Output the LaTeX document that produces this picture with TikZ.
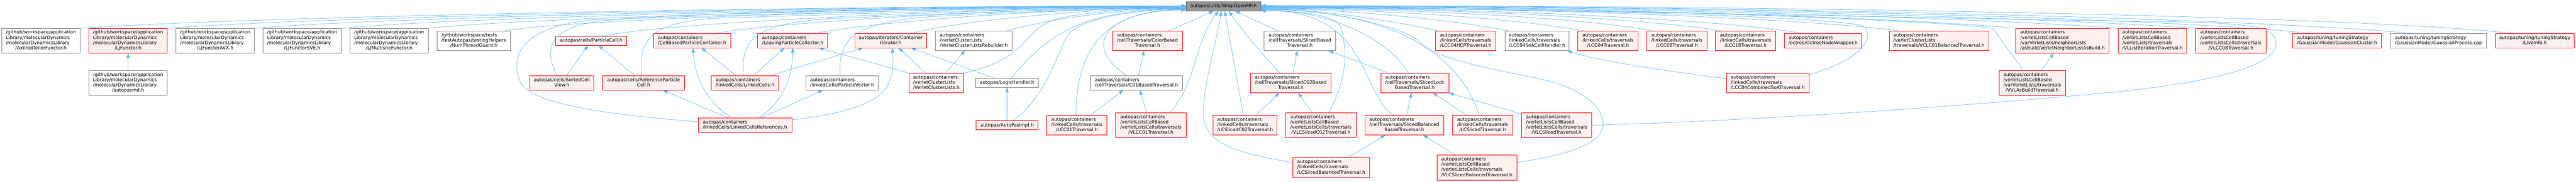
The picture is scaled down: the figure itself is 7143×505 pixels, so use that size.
\documentclass[tikz,border=0pt]{standalone}
\usepackage{fontspec}
\setmainfont{DejaVu Sans}
\usetikzlibrary{arrows.meta,calc,backgrounds}
\definecolor{edgeblue}{HTML}{63B8FF}
\definecolor{redfill}{HTML}{FFF0F0}
\definecolor{grayborder}{HTML}{808080}
\definecolor{rootfill}{HTML}{999999}
\definecolor{rootborder}{HTML}{666666}
\newcommand\lbl[2]{\begin{tabular}{@{}l@{}}#1\multicolumn{1}{@{}c@{}}{#2}\end{tabular}}
\newcommand\bx[7]{\node[#1, minimum width={(#4-#3)*1bp}, minimum height={#6*1bp}] (#2) at ({(#3+#4)/2},#5) {#7};}
\newcommand\pMD{/github/workspace/application\\Library/molecularDynamics\\/molecularDynamicsLibrary\\}
\newcommand\pLCT{autopas/containers\\/linkedCells/traversals\\}
\newcommand\pVLCT{autopas/containers\\/verletListsCellBased\\/verletListsCells/traversals\\}
\tikzset{
  every node/.style={font=\fontsize{12.85bp}{14.65bp}\selectfont, inner sep=0pt, outer sep=0pt, line width=1.2bp},
  rbox/.style={draw=red, fill=redfill},
  gbox/.style={draw=grayborder, fill=white},
  root/.style={draw=rootborder, fill=rootfill},
  dep/.style={draw=edgeblue, line width=1bp, -{Triangle[length=13bp,width=9.5bp]}}
}
\begin{document}
\begin{tikzpicture}[x=1bp, y=-1bp]
\useasboundingbox (0,0) rectangle (7143,505);
% ---- nodes ----
\bx{root}{W}{3288.6}{3496.4}{17.7}{26}{autopas/utils/WrapOpenMP.h}
% row 1
\bx{gbox}{axil}{4.6}{222.7}{113.3}{69.3}{\lbl{\pMD}{/AxilrodTellerFunctor.h}}
\bx{rbox}{ljf}{246.4}{463.8}{113.3}{69.3}{\lbl{\pMD}{/LJFunctor.h}}
\bx{gbox}{avx}{487.9}{705.2}{113.3}{69.3}{\lbl{\pMD}{/LJFunctorAVX.h}}
\bx{gbox}{sve}{729.3}{946.3}{113.3}{69.3}{\lbl{\pMD}{/LJFunctorSVE.h}}
\bx{gbox}{multi}{970.4}{1187.8}{113.3}{69.3}{\lbl{\pMD}{/LJMultisiteFunctor.h}}
\bx{gbox}{num}{1212.6}{1415.1}{113.3}{55}{\lbl{/github/workspace/tests\\/testAutopas/testingHelpers\\}{/NumThreadGuard.h}}
\bx{rbox}{pcell}{1540.6}{1738.0}{113.3}{25.7}{autopas/cells/ParticleCell.h}
\bx{rbox}{cbpc}{1812.6}{2025.8}{113.3}{40}{\lbl{autopas/containers\\}{/CellBasedParticleContainer.h}}
\bx{rbox}{lpc}{2100.8}{2295.2}{113.3}{40}{\lbl{autopas/containers\\}{/LeavingParticleCollector.h}}
\bx{rbox}{citer}{2370.2}{2569.5}{113.3}{40}{\lbl{autopas/iterators/Container\\}{Iterator.h}}
\bx{gbox}{vclr}{2594.0}{2806.8}{113.3}{55}{\lbl{autopas/containers\\/verletClusterLists\\}{/VerletClusterListsRebuilder.h}}
\bx{rbox}{colb}{3085.0}{3278.6}{113.3}{55}{\lbl{autopas/containers\\/cellTraversals/ColorBased\\}{Traversal.h}}
\bx{gbox}{slb}{3505.1}{3703.7}{113.3}{55}{\lbl{autopas/containers\\/cellTraversals/SlicedBased\\}{Traversal.h}}
\bx{rbox}{hcp}{3980.7}{4148.0}{113.3}{55}{\lbl{\pLCT}{/LCC04HCPTraversal.h}}
\bx{gbox}{soah}{4172.8}{4351.1}{113.3}{55}{\lbl{\pLCT}{/LCC04SoACellHandler.h}}
\bx{rbox}{lcc04}{4375.3}{4542.5}{113.3}{55}{\lbl{\pLCT}{/LCC04Traversal.h}}
\bx{rbox}{lcc08}{4566.2}{4733.4}{113.3}{55}{\lbl{\pLCT}{/LCC08Traversal.h}}
\bx{rbox}{lcc18}{4756.8}{4924.0}{113.3}{55}{\lbl{\pLCT}{/LCC18Traversal.h}}
\bx{rbox}{oct}{4947.7}{5162.4}{113.3}{40}{\lbl{autopas/containers\\}{/octree/OctreeNodeWrapper.h}}
\bx{rbox}{vclc01}{5238.5}{5514.4}{113.3}{55}{\lbl{autopas/containers\\/verletClusterLists\\}{/traversals/VCLC01BalancedTraversal.h}}
\bx{rbox}{vnlab}{5589.8}{5848.5}{113.3}{69.3}{\lbl{autopas/containers\\/verletListsCellBased\\/varVerletLists/neighborLists\\}{/asBuild/VerletNeighborListAsBuild.h}}
\bx{rbox}{vllit}{5873.3}{6063.9}{113.3}{69.3}{\lbl{autopas/containers\\/verletListsCellBased\\/verletLists/traversals\\}{/VLListIterationTraversal.h}}
\bx{rbox}{vlcc08}{6088.4}{6283.2}{113.3}{69.3}{\lbl{\pVLCT}{/VLCC08Traversal.h}}
\bx{rbox}{gcl}{6357.0}{6604.2}{113.3}{40}{\lbl{autopas/tuning/tuningStrategy\\}{/GaussianModel/GaussianCluster.h}}
\bx{gbox}{gpr}{6628.3}{6895.0}{113.3}{40}{\lbl{autopas/tuning/tuningStrategy\\}{/GaussianModel/GaussianProcess.cpp}}
\bx{rbox}{live}{6919.2}{7138.0}{113.3}{40}{\lbl{autopas/tuning/tuningStrategy\\}{/LiveInfo.h}}
% row 2
\bx{gbox}{amd}{246.4}{463.8}{230.5}{69.3}{\lbl{\pMD}{/autopasmd.h}}
\bx{rbox}{scv}{1468.6}{1647.0}{230.5}{40}{\lbl{autopas/cells/SortedCell\\}{View.h}}
\bx{rbox}{rpc}{1671.1}{1898.0}{230.5}{40}{\lbl{autopas/cells/ReferenceParticle\\}{Cell.h}}
\bx{rbox}{lc}{1972.6}{2159.0}{230.5}{40}{\lbl{autopas/containers\\}{/linkedCells/LinkedCells.h}}
\bx{gbox}{pvec}{2234.7}{2435.6}{230.5}{40}{\lbl{autopas/containers\\}{/linkedCells/ParticleVector.h}}
\bx{rbox}{vcl}{2520.5}{2672.5}{230.5}{55}{\lbl{autopas/containers\\/verletClusterLists\\}{/VerletClusterLists.h}}
\bx{gbox}{logic}{2705.0}{2879.9}{230.5}{25.7}{autopas/LogicHandler.h}
\bx{gbox}{c01b}{3023.7}{3278.6}{230.5}{40}{\lbl{autopas/containers\\}{/cellTraversals/C01BasedTraversal.h}}
\bx{rbox}{sc02b}{3467.6}{3690.7}{230.5}{55}{\lbl{autopas/containers\\/cellTraversals/SlicedC02Based\\}{Traversal.h}}
\bx{rbox}{slock}{3828.8}{4017.1}{230.5}{55}{\lbl{autopas/containers\\/cellTraversals/SlicedLock\\}{BasedTraversal.h}}
\bx{rbox}{comb}{4787.4}{5016.2}{230.5}{55}{\lbl{\pLCT}{/LCC04CombinedSoATraversal.h}}
\bx{rbox}{vvlab}{5543.1}{5727.2}{230.5}{69.3}{\lbl{autopas/containers\\/verletListsCellBased\\/varVerletLists/traversals\\}{/VVLAsBuildTraversal.h}}
% row 3
\bx{rbox}{lcr}{1935.9}{2195.7}{347.9}{40}{\lbl{autopas/containers\\}{/linkedCells/LinkedCellsReferences.h}}
\bx{rbox}{impl}{2706.9}{2878.0}{347.9}{25.7}{autopas/AutoPasImpl.h}
\bx{rbox}{lcc01}{2902.5}{3069.3}{347.9}{55}{\lbl{\pLCT}{/LCC01Traversal.h}}
\bx{rbox}{vlcc01}{3093.8}{3288.6}{347.9}{69.3}{\lbl{\pVLCT}{/VLCC01Traversal.h}}
\bx{rbox}{lcsc02}{3363.9}{3541.1}{347.9}{55}{\lbl{\pLCT}{/LCSlicedC02Traversal.h}}
\bx{rbox}{vlcsc02}{3565.6}{3760.3}{347.9}{69.3}{\lbl{\pVLCT}{/VLCSlicedC02Traversal.h}}
\bx{rbox}{sbal}{3784.8}{4003.3}{347.9}{55}{\lbl{autopas/containers\\/cellTraversals/SlicedBalanced\\}{BasedTraversal.h}}
\bx{rbox}{lcs}{4027.8}{4194.7}{347.9}{55}{\lbl{\pLCT}{/LCSlicedTraversal.h}}
\bx{rbox}{vlcs}{4219.1}{4413.5}{347.9}{69.3}{\lbl{\pVLCT}{/VLCSlicedTraversal.h}}
% row 4
\bx{rbox}{lcsbal}{3585.5}{3797.1}{465.3}{55}{\lbl{\pLCT}{/LCSlicedBalancedTraversal.h}}
\bx{rbox}{vlcsbal}{3984.6}{4205.7}{465.3}{69.3}{\lbl{\pVLCT}{/VLCSlicedBalancedTraversal.h}}
% ---- edges ----
\begin{pgfonlayer}{background}
\fill[white] (0,0) rectangle (7143,505);
% left side into WrapOpenMP
\draw[dep] (axil.north east) .. controls (700,45) and (2300,16) .. ($(W.west)+(0,-1.7)$);
\draw[dep] (ljf.north east) .. controls (900,45) and (2400,16.5) .. ($(W.west)+(0,-1.2)$);
\draw[dep] (avx.north east) .. controls (1100,45) and (2500,17) .. ($(W.west)+(0,-0.7)$);
\draw[dep] (sve.north east) .. controls (1300,45) and (2600,17.5) .. ($(W.west)+(0,-0.2)$);
\draw[dep] (multi.north east) .. controls (1500,45) and (2700,18) .. ($(W.west)+(0,0.3)$);
\draw[dep] ($(num.north east)+(-16,0)$) .. controls (1600,50) and (2750,18.5) .. ($(W.west)+(0,0.8)$);
\draw[dep] ($(scv.north)+(-13.4,0)$) .. controls (1505,130) and (1520,70) .. (1700,55) .. controls (2000,30) and (2800,19) .. ($(W.west)+(0,1.3)$);
\draw[dep] ($(lcr.west)+(0,-9.6)$) .. controls (1700,320) and (1455,290) .. (1440,220) .. controls (1410,140) and (1470,70) .. (1650,55) .. controls (2000,42) and (2800,19.5) .. ($(W.west)+(0,1.8)$);
\draw[dep] ($(pcell.north)+(33.3,0)$) .. controls (1850,60) and (2800,20) .. ($(W.west)+(0,2.3)$);
\draw[dep] ($(rpc.north)+(-4.75,0)$) .. controls (1770,110) and (1800,60) .. (2000,50) .. controls (2500,35) and (2900,20.5) .. ($(W.west)+(0,2.8)$);
\draw[dep] ($(cbpc.north)+(60.7,0)$) .. controls (2200,55) and (2900,21) .. ($(W.west)+(0,3.3)$);
\draw[dep] ($(lc.north)+(-4.4,0)$) .. controls (2055,120) and (2080,65) .. (2300,52) .. controls (2700,35) and (3000,21.5) .. ($(W.west)+(0,3.8)$);
\draw[dep] ($(lpc.north)+(55.5,0)$) .. controls (2500,50) and (3000,22) .. ($(W.west)+(0,4.3)$);
\draw[dep] ($(pvec.north)+(-5,0)$) .. controls (2320,100) and (2380,60) .. (2600,45) .. controls (2900,30) and (3100,22.5) .. ($(W.west)+(0,4.8)$);
\draw[dep] ($(citer.north)+(54.5,0)$) .. controls (2650,60) and (3000,23) .. ($(W.west)+(0,5.3)$);
\draw[dep] (vcl.north east) .. controls (2870,160) and (2830,70) .. (2950,48) .. controls (3050,30) and (3150,23.5) .. ($(W.west)+(0,5.8)$);
\draw[dep] ($(vclr.north)+(91.6,0)$) .. controls (2900,55) and (3100,24) .. ($(W.west)+(0,6.3)$);
\draw[dep] ($(logic.north)+(11.3,0)$) .. controls (2900,100) and (3000,25) .. ($(W.west)+(0,7.3)$);
\draw[dep] ($(impl.north)+(17,0)$) .. controls (2900,270) and (2930,150) .. (2960,100) .. controls (2990,50) and (3150,26) .. ($(W.west)+(0,8.3)$);
\draw[dep] ($(lcc01.north)+(-2.3,0)$) .. controls (2985,150) and (3050,27) .. ($(W.west)+(0,9.3)$);
\draw[dep] ($(c01b.north)+(-26.75,0)$) .. controls (2990,120) and (3080,28) .. ($(W.west)+(0,10.3)$);
% bottom into WrapOpenMP
\draw[dep] ($(colb.north)+(59.2,0)$) -- ($(W.south)+(-27,0)$);
\draw[dep] ($(vlcc01.north)+(51.8,0)$) .. controls (3320,230) and (3310,120) .. ($(W.south)+(-13.6,0)$);
\draw[dep] ($(lcsbal.west)+(0,-13.6)$) .. controls (3430,425) and (3340,400) .. (3337,320) .. controls (3335,240) and (3375,110) .. ($(W.south)+(-6,0)$);
\draw[dep] ($(lcsc02.north)+(-4.8,0)$) -- ($(W.south)+(3.6,0)$);
\draw[dep] ($(sc02b.north)+(-30.2,0)$) .. controls (3500,150) and (3440,80) .. ($(W.south)+(15.1,0)$);
\draw[dep] ($(slb.north)+(-61,0)$) -- ($(W.south)+(32.3,0)$);
% right side into WrapOpenMP
\draw[dep] ($(vlcsc02.north)+(21,0)$) .. controls (3745,200) and (3730,130) .. (3720,80) .. controls (3710,40) and (3600,30) .. ($(W.east)+(0,12.3)$);
\draw[dep] ($(sbal.north)+(-30,0)$) .. controls (3770,260) and (3800,29) .. ($(W.east)+(0,11.3)$);
\draw[dep] ($(slock.north)+(-17,0)$) .. controls (3860,120) and (3700,28) .. ($(W.east)+(0,10.3)$);
\draw[dep] ($(lcs.north)+(-10,0)$) .. controls (4060,180) and (3900,27) .. ($(W.east)+(0,9.3)$);
\draw[dep] ($(vlcsbal.east)+(0,-13.6)$) .. controls (4380,425) and (4450,390) .. (4445,340) .. controls (4440,290) and (4380,240) .. (4250,215) .. controls (4100,185) and (3980,160) .. (3940,120) .. controls (3910,80) and (3700,26) .. ($(W.east)+(0,8.3)$);
\draw[dep] ($(hcp.north west)+(7.7,0)$) .. controls (3850,55) and (3650,25) .. ($(W.east)+(0,7.3)$);
\draw[dep] ($(soah.north west)+(12.7,0)$) .. controls (4000,50) and (3700,24.5) .. ($(W.east)+(0,6.8)$);
\draw[dep] ($(lcc04.north west)+(16,0)$) .. controls (4200,50) and (3800,24) .. ($(W.east)+(0,6.3)$);
\draw[dep] ($(lcc08.north west)+(16.5,0)$) .. controls (4400,50) and (3900,23) .. ($(W.east)+(0,5.3)$);
\draw[dep] ($(lcc18.north west)+(17,0)$) .. controls (4550,50) and (4000,22) .. ($(W.east)+(0,4.3)$);
\draw[dep] ($(comb.east)+(0,-22.5)$) .. controls (5150,170) and (5200,110) .. (5170,75) .. controls (5140,45) and (4200,21.5) .. ($(W.east)+(0,3.8)$);
\draw[dep] ($(oct.north west)+(51.3,0)$) .. controls (4800,55) and (4100,21) .. ($(W.east)+(0,3.3)$);
\draw[dep] ($(vclc01.north west)+(26.5,0)$) .. controls (5000,50) and (4200,20) .. ($(W.east)+(0,2.3)$);
\draw[dep] (vlcs.east) .. controls (4900,335) and (5500,290) .. (5840,258) .. controls (6150,228) and (6330,180) .. (6310,110) .. controls (6300,75) and (6230,68) .. (6100,62) .. controls (5000,45) and (4000,19.5) .. ($(W.east)+(0,1.8)$);
\draw[dep] (vnlab.north west) .. controls (5300,50) and (4400,19) .. ($(W.east)+(0,1.3)$);
\draw[dep] ($(vvlab.north)+(-24.6,0)$) -- (5527,80) .. controls (5480,62) and (4500,18.5) .. ($(W.east)+(0,0.8)$);
\draw[dep] (vllit.north west) .. controls (5500,50) and (4500,18) .. ($(W.east)+(0,0.3)$);
\draw[dep] (vlcc08.north west) .. controls (5700,50) and (4600,17) .. ($(W.east)+(0,-0.7)$);
\draw[dep] ($(gcl.north west)+(56.3,0)$) .. controls (6000,50) and (4800,16.5) .. ($(W.east)+(0,-1.2)$);
\draw[dep] ($(gpr.north west)+(64,0)$) .. controls (6300,55) and (5000,16) .. ($(W.east)+(0,-1.7)$);
\draw[dep] ($(live.north west)+(52.4,0)$) .. controls (6600,50) and (5200,15.5) .. ($(W.east)+(0,-2.2)$);
% other dependencies
\draw[dep] (amd.north) -- (ljf.south);
\draw[dep] ($(scv.north)+(13.4,0)$) -- ($(pcell.south)+(-8.8,0)$);
\draw[dep] ($(rpc.north)+(-23.85,0)$) -- ($(pcell.south)+(19.9,0)$);
\draw[dep] ($(lc.north)+(-24.8,0)$) -- ($(cbpc.south)+(26.2,0)$);
\draw[dep] ($(lc.north)+(23.2,0)$) -- ($(lpc.south)+(-23,0)$);
\draw[dep] ($(lc.north)+(67.2,0)$) -- ($(citer.south)+(-76.85,0)$);
\draw[dep] ($(lcr.north)+(-36.2,0)$) .. controls (1950,280) and (1925,200) .. ($(cbpc.south)+(2.8,0)$);
\draw[dep] ($(lcr.north)+(36.6,0)$) .. controls (2180,280) and (2198,200) .. (lpc.south);
\draw[dep] ($(lcr.north)+(44.2,0)$) -- ($(pvec.south)+(-53.15,0)$);
\draw[dep] ($(lcr.north)+(-45.8,0)$) -- ($(rpc.south)+(53.45,0)$);
\draw[dep] ($(lcr.east)+(0,-14.9)$) .. controls (2330,318) and (2430,290) .. (2460,240) .. controls (2480,200) and (2476,170) .. ($(citer.south)+(4.75,0)$);
\draw[dep] (vcl.north west) -- ($(lpc.south)+(73,0)$);
\draw[dep] ($(vcl.north)+(-29.5,0)$) -- ($(citer.south)+(21.95,0)$);
\draw[dep] ($(vcl.north)+(24.7,0)$) -- ($(vclr.south)+(-24.9,0)$);
\draw[dep] ($(logic.north)+(-32.75,0)$) -- ($(citer.south)+(56.45,0)$);
\draw[dep] (impl.north) -- (logic.south);
\draw[dep] ($(lcc01.north)+(37.1,0)$) -- ($(c01b.south)+(-36.35,0)$);
\draw[dep] ($(vlcc01.north)+(-11.3,0)$) -- ($(c01b.south)+(9.55,0)$);
\draw[dep] ($(c01b.north)+(5.75,0)$) -- ($(colb.south)+(-9.6,0)$);
\draw[dep] ($(lcsc02.north)+(29.7,0)$) -- ($(sc02b.south)+(-31.85,0)$);
\draw[dep] ($(vlcsc02.north)+(-24.65,0)$) -- ($(sc02b.south)+(20.85,0)$);
\draw[dep] ($(sc02b.north)+(6.35,0)$) -- ($(slb.south)+(-7.4,0)$);
\draw[dep] ($(slock.north)+(-72.25,0)$) -- ($(slb.south)+(79.8,0)$);
\draw[dep] ($(sbal.north)+(6.35,0)$) -- ($(slock.south)+(-9.15,0)$);
\draw[dep] ($(lcs.north)+(-44.35,0)$) -- ($(slock.south)+(50.15,0)$);
\draw[dep] ($(vlcs.north west)+(0,3.4)$) -- (slock.south east);
\draw[dep] ($(lcsbal.north)+(46.5,0)$) -- ($(sbal.south)+(-53.05,0)$);
\draw[dep] ($(vlcsbal.north)+(-58.85,0)$) -- ($(sbal.south)+(52.25,0)$);
\draw[dep] ($(comb.west)+(0,-12.2)$) .. controls (4560,190) and (4420,165) .. ($(soah.south)+(83.45,0)$);
\draw[dep] ($(vvlab.north)+(25.05,0)$) -- ($(vnlab.south)+(-24.45,0)$);
\end{pgfonlayer}
\end{tikzpicture}
\end{document}
